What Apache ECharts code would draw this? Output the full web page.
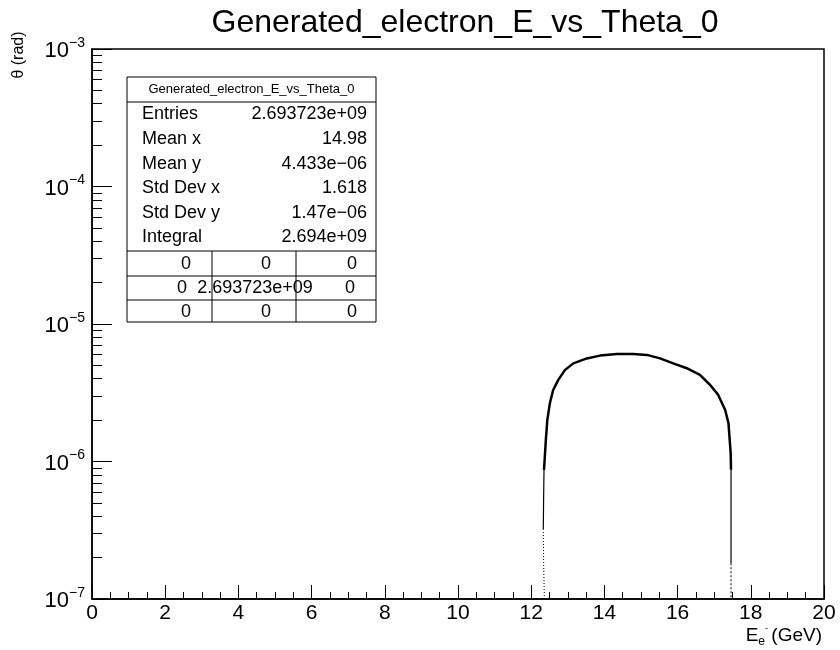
<!DOCTYPE html>
<html>
<head>
<meta charset="utf-8">
<script src="https://cdn.jsdelivr.net/npm/echarts@6/dist/echarts.min.js"></script>
<style>
html,body{margin:0;padding:0;background:#fff;}
#chart{width:840px;height:650px;}
</style>
</head>
<body>
<div id="chart"></div>
<script>
// ---- data ----
const chartTitle = 'Generated_electron_E_vs_Theta_0';
const xTicks = [0, 2, 4, 6, 8, 10, 12, 14, 16, 18, 20];
const yDecades = [1e-7, 1e-6, 1e-5, 1e-4, 1e-3];
const yMinorTicks = [2e-7,3e-7,4e-7,5e-7,6e-7,7e-7,8e-7,9e-7,
                     2e-6,3e-6,4e-6,5e-6,6e-6,7e-6,8e-6,9e-6,
                     2e-5,3e-5,4e-5,5e-5,6e-5,7e-5,8e-5,9e-5,
                     2e-4,3e-4,4e-4,5e-4,6e-4,7e-4,8e-4,9e-4];
// main (dense) band of the distribution
const energyCore = [12.35, 12.40, 12.44, 12.51, 12.60, 12.74, 12.92, 13.15, 13.52, 13.88, 14.34, 14.79, 15.16, 15.52, 15.88, 16.25, 16.61, 16.89, 17.11, 17.30, 17.39, 17.45, 17.46];
const thetaCore  = [8.7e-7, 1.43e-6, 2.0e-6, 2.65e-6, 3.31e-6, 3.92e-6, 4.62e-6, 5.17e-6, 5.62e-6, 5.89e-6, 6.05e-6, 6.05e-6, 5.96e-6, 5.62e-6, 5.17e-6, 4.77e-6, 4.26e-6, 3.6e-6, 3.05e-6, 2.37e-6, 1.9e-6, 1.15e-6, 8.7e-7];
// thin edges
const energyLeftThin = [12.33, 12.34, 12.35];
const thetaLeftThin  = [3.2e-7, 5.5e-7, 8.7e-7];
const energyRightThin = [17.46, 17.46];
const thetaRightThin  = [8.7e-7, 1.82e-7];
// sparse tails
const energyLeftSparse = [12.36, 12.34, 12.33];
const thetaLeftSparse  = [1.0e-7, 1.8e-7, 3.2e-7];
const energyRightSparse = [17.46, 17.46];
const thetaRightSparse  = [1.82e-7, 1.0e-7];
// statistics box
const statsTitle = 'Generated_electron_E_vs_Theta_0';
const statNames = ['Entries', 'Mean x', 'Mean y', 'Std Dev x', 'Std Dev y', 'Integral'];
const statValues = ['2.693723e+09', '14.98', '4.433e\u221206', '1.618', '1.47e\u221206', '2.694e+09'];
const tableCells = [['0','0','0'], ['0','2.693723e+09','0'], ['0','0','0']];

function pairs(xs, ys){ return xs.map((x,i)=>[x, ys[i]]); }

const chart = echarts.init(document.getElementById('chart'), null, {renderer:'canvas'});
const FONT = '"Liberation Sans", Arial, Helvetica, sans-serif';

const sup = n => String(n).replace('-', '\u2212');

// stats box graphics
const bx = 127, by = 77, bw = 249, bh = 245;
const g = [];
g.push({type:'rect', shape:{x:bx, y:by, width:bw, height:bh}, style:{fill:'#fff', stroke:'#000', lineWidth:1}, z:100});
g.push({type:'line', shape:{x1:bx, y1:102, x2:bx+bw, y2:102}, style:{stroke:'#000', lineWidth:1}, z:101});
g.push({type:'text', x:bx+bw/2, y:89, style:{text:statsTitle, font:'13px '+FONT, fill:'#000', align:'center', verticalAlign:'middle'}, z:102});
const statY = [114, 139, 164, 188, 213, 237];
statNames.forEach((n,i)=>{
  g.push({type:'text', x:142, y:statY[i], style:{text:n, font:'18px '+FONT, fill:'#000', align:'left', verticalAlign:'middle'}, z:102});
  g.push({type:'text', x:367, y:statY[i], style:{text:statValues[i], font:'18px '+FONT, fill:'#000', align:'right', verticalAlign:'middle'}, z:102});
});
const rowLines = [251, 276, 300];
rowLines.forEach(yl=>g.push({type:'line', shape:{x1:bx, y1:yl, x2:bx+bw, y2:yl}, style:{stroke:'#000', lineWidth:1}, z:101}));
const colX = [212, 296];
colX.forEach(xl=>g.push({type:'line', shape:{x1:xl, y1:251, x2:xl, y2:by+bh}, style:{stroke:'#000', lineWidth:1}, z:101}));
const rowMid = [264, 288, 312];
const cellX = [[186, 266, 352], [182, 255, 350], [186, 266, 352]];
tableCells.forEach((row,r)=>row.forEach((c,k)=>{
  g.push({type:'text', x:cellX[r][k], y:rowMid[r], style:{text:c, font:'18px '+FONT, fill:'#000', align:'center', verticalAlign:'middle'}, z:103});
}));
// axis titles
g.push({type:'text', x:19, y:55, rotation:Math.PI/2, style:{text:'\u03b8 (rad)', font:'16px '+FONT, fill:'#000', align:'center', verticalAlign:'middle'}, z:50});
g.push({type:'text', x:822, y:636, style:{
  text:'{e|E}{sub|e}{sup|-} {n|(GeV)}', align:'right', verticalAlign:'middle',
  rich:{
    e:{fontSize:19, fontFamily:FONT, fill:'#000', lineHeight:24},
    sub:{fontSize:12, fontFamily:FONT, fill:'#000', lineHeight:24, verticalAlign:'bottom', padding:[7,0,0,0]},
    sup:{fontSize:9, fontFamily:FONT, fill:'#000', lineHeight:24, verticalAlign:'top'},
    n:{fontSize:19, fontFamily:FONT, fill:'#000', lineHeight:24}
  }}, z:50});

const lineBase = {type:'line', showSymbol:false, symbol:'none', animation:false, silent:true};

chart.setOption({
  animation:false,
  backgroundColor:'#fff',
  title:{text:chartTitle, left:460, textAlign:'center', top:2, textStyle:{fontFamily:FONT, fontSize:32, fontWeight:'normal', color:'#000'}},
  grid:{left:92, right:16, top:49, bottom:51, show:true, borderColor:'#000', borderWidth:1.5, containLabel:false},
  xAxis:{type:'value', min:0, max:20, interval:2,
    axisLine:{show:true, onZero:false, lineStyle:{color:'#000', width:1.5}},
    axisTick:{show:true, inside:true, length:14, lineStyle:{color:'#000', width:1}},
    minorTick:{show:true, splitNumber:4, length:7, lineStyle:{color:'#000', width:1}},
    splitLine:{show:false},
    axisLabel:{fontFamily:FONT, fontSize:21, color:'#000', margin:4,
      customValues: xTicks}
  },
  yAxis:[{type:'log', min:yDecades[0], max:yDecades[yDecades.length-1], logBase:10,
    axisLine:{show:true, onZero:false, lineStyle:{color:'#000', width:1.5}},
    axisTick:{show:true, inside:true, length:20, lineStyle:{color:'#000', width:1}},
    splitLine:{show:false},
    axisLabel:{margin:7, formatter:v=>'{b|10}{s|'+sup(Math.round(Math.log10(v)))+'}',
      rich:{b:{fontFamily:FONT, fontSize:22, color:'#000', lineHeight:26, verticalAlign:'bottom', padding:[8,0,0,0]},
            s:{fontFamily:FONT, fontSize:14, color:'#000', lineHeight:26, verticalAlign:'top'}}}
  },{type:'log', min:yDecades[0], max:yDecades[yDecades.length-1], logBase:10, position:'left',
    axisLine:{show:false}, splitLine:{show:false}, axisLabel:{show:false},
    axisTick:{show:true, inside:true, length:10, customValues:yMinorTicks, lineStyle:{color:'#000', width:1}}
  }],
  graphic:g,
  series:[
    Object.assign({}, lineBase, {data:pairs(energyCore, thetaCore), lineStyle:{color:'#000', width:2.5}}),
    Object.assign({}, lineBase, {data:pairs(energyLeftThin, thetaLeftThin), lineStyle:{color:'#000', width:1.2}}),
    Object.assign({}, lineBase, {data:pairs(energyRightThin, thetaRightThin), lineStyle:{color:'#000', width:1.2}}),
    Object.assign({}, lineBase, {data:pairs(energyLeftSparse, thetaLeftSparse), lineStyle:{color:'#000', width:1, type:[1,2]}}),
    Object.assign({}, lineBase, {data:pairs(energyRightSparse, thetaRightSparse), lineStyle:{color:'#000', width:1, type:[2,2]}})
  ]
});
</script>
</body>
</html>
